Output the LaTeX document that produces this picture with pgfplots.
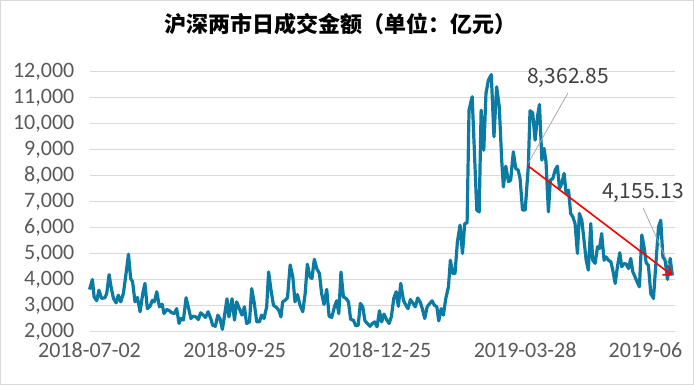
\documentclass[border=0pt]{standalone}
\usepackage{fontspec}
\setmainfont{Carlito}
\newfontfamily\cjk{Noto Sans CJK SC}
\usepackage{pgfplots}
\pgfplotsset{compat=1.18}
\usetikzlibrary{arrows.meta}
\definecolor{lineblue}{HTML}{0B7BA3}
\definecolor{gridgray}{HTML}{D9D9D9}
\definecolor{ticktext}{HTML}{595959}
\definecolor{annot}{HTML}{404040}
\definecolor{leader}{HTML}{A6A6A6}
\pgfplotstableread{
x y
0 3615
1.2 4000
1.9 3333
3.0 3180
3.9 3590
5.0 3270
6.4 3300
7.1 3460
8.1 4190
8.9 3720
9.9 3270
11.0 3100
11.9 3400
12.9 3140
14.0 3460
15.1 4230
16.1 4970
17.0 4040
17.8 3910
18.8 3140
19.8 3310
20.9 2760
22.0 3460
22.9 3850
23.9 2880
25.0 2970
26.0 3200
26.8 3140
27.8 3530
28.9 2950
30.0 3050
30.8 2690
31.9 2850
33.0 2800
34.0 2720
35.1 2690
36.0 2880
37.0 2310
37.8 2500
38.8 2440
39.9 3300
40.8 2950
41.9 2500
42.9 2590
44.0 2560
45.0 2460
45.9 2720
47.0 2630
47.9 2540
49.0 2760
50.1 2500
50.9 2240
52.0 2200
53.0 2630
53.9 2500
54.9 2080
55.7 2560
56.8 3260
57.6 2560
58.9 3260
59.9 2440
60.8 3140
61.9 2880
63.0 2630
64.0 2950
64.9 2310
66.1 2370
67.0 3650
68.0 3140
69.1 2370
70.2 2370
71.1 2630
72.1 2500
73.2 2950
74.0 4290
75.0 3590
76.0 3010
77.3 2920
78.3 2800
79.1 2560
79.8 3140
80.8 3200
81.8 3300
82.9 4560
84.0 4100
84.9 3140
85.9 3420
87.0 3010
88.1 2760
89.1 3460
90.0 4590
91.1 4100
91.9 4040
92.9 4780
93.9 4420
95.0 4230
95.9 3460
96.9 3040
98.0 3620
99.0 2590
100.1 2540
101.2 2950
102.1 3180
103.0 2690
103.9 4290
104.9 3330
106.0 3270
107.0 3140
107.9 2460
109.0 2440
110.0 2220
111.0 2240
111.9 3080
112.9 2950
113.8 2410
114.8 2310
115.9 2200
116.9 2310
117.8 2370
118.8 2180
119.8 2800
120.7 2370
121.7 2670
122.8 2440
123.8 2310
124.7 2560
125.7 3270
126.7 3530
127.6 2970
128.6 3850
129.7 3200
130.7 3010
131.6 2880
132.6 3230
133.7 3080
134.6 2950
135.6 3290
136.6 3140
137.5 2880
138.5 2500
139.5 2950
140.6 3080
141.5 3180
142.5 3010
143.5 2950
144.3 2410
145.3 2880
146.2 2630
147.2 3270
148.3 3720
149.1 4740
150.1 4230
151.0 4230
152.0 5450
153.1 6090
154.1 5000
155.0 6150
156.0 6180
156.8 10510
158.1 11030
159.0 8970
160.0 6670
161.0 6600
161.8 10510
162.9 8970
163.8 11150
164.8 11670
166.0 11880
167.1 9490
168.2 11410
169.3 10640
170.3 8590
171.0 7560
172.0 8360
173.1 7760
174.0 7820
175.1 8910
176.1 8270
177.1 8210
177.9 7880
178.9 6670
180.0 6670
181.3 8362.85
182.0 10490
183.1 10410
184.1 9360
185.1 10280
185.9 10730
186.9 8590
187.8 9040
188.6 8530
189.6 6600
190.4 7820
191.4 7880
192.4 8210
193.3 8360
194.2 7500
195.1 7690
196.1 8080
196.9 7310
197.9 7440
198.8 6540
199.7 6410
200.6 6150
201.6 5000
202.4 6540
203.4 6280
204.3 5510
205.2 4740
206.1 4360
207.1 6150
207.9 4740
208.9 4620
209.9 5260
210.7 5190
211.6 5770
212.6 4740
213.4 4870
214.4 4740
215.4 4680
216.2 4360
217.2 3850
218.1 4490
219.1 5030
219.9 4490
220.9 4620
221.7 4590
222.7 4420
223.6 4810
224.5 4290
225.4 4100
226.4 3870
227.2 3720
228.2 5710
229.1 5260
230.0 4640
230.9 4550
231.9 3460
233.0 3270
234.1 4740
235.1 6030
236.0 6280
236.9 4870
237.8 4740
238.8 4000
239.9 4810
240.8 4155.13
}\turnover
\begin{document}
\begin{tikzpicture}
\useasboundingbox (0,0) rectangle (694bp,-385bp);
\draw[gridgray, line width=1bp] (0.5bp,-0.5bp) rectangle (693.5bp,-384.5bp);
\node[font=\cjk\bfseries\fontsize{22bp}{26bp}\selectfont, text=black] at (340bp,-24bp) {沪深两市日成交金额（单位：亿元）};
\begin{axis}[
  at={(89.5bp,-331.5bp)}, anchor=south west,
  scale only axis, width=585.5bp, height=260bp,
  xmin=0, xmax=241.9, ymin=2000, ymax=12000,
  axis line style={draw=none},
  major tick length=0pt,
  ymajorgrids, grid style={gridgray, line width=1bp},
  scaled y ticks=false,
  xtick={0,60,120,180},
  xticklabels={2018-07-02,2018-09-25,2018-12-25,2019-03-28},
  extra x ticks={240},
  extra x tick labels={2019-06},
  extra x tick style={xticklabel style={anchor=north west, xshift=-62bp}},
  ytick={2000,3000,...,12000},
  /pgf/number format/.cd, 1000 sep={,}, assume math mode=true,
  /pgfplots/.cd,
  tick label style={font=\fontsize{22bp}{26bp}\selectfont, text=ticktext},
  yticklabel style={inner sep=0pt, xshift=-15bp},
  xticklabel style={inner sep=0pt, yshift=-11bp},
  clip=false,
]
\addplot[lineblue, line width=3.2bp, line join=round, no marks] table[x=x,y=y] {\turnover};
\draw[leader, line width=0.75bp] (axis cs:197.7,11180) -- (axis cs:181.3,8480);
\node[font=\cjk\fontsize{21bp}{25bp}\selectfont, text=annot] at (axis cs:197.7,11760) {8,362.85};
\draw[leader, line width=0.75bp] (axis cs:228.7,6758) -- (axis cs:239.9,4450);
\node[font=\cjk\fontsize{21bp}{25bp}\selectfont, text=annot] at (axis cs:228.7,7335) {4,155.13};
\draw[red, line width=1.6bp, -{Straight Barb[length=7bp,width=11bp]}] (axis cs:181.3,8362.85) -- (axis cs:240.8,4155.13);
\end{axis}
\end{tikzpicture}
\end{document}
